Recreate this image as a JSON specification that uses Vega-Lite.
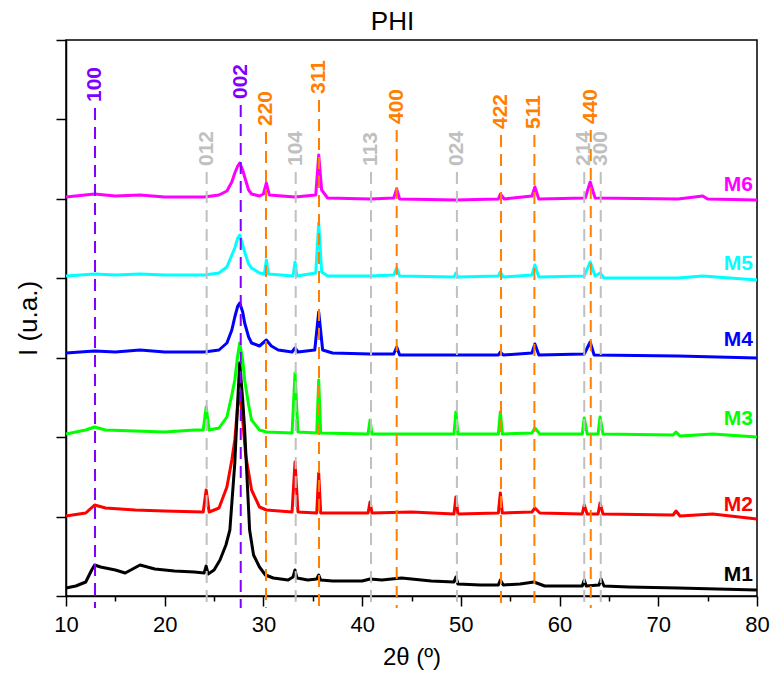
{
  "$schema": "https://vega.github.io/schema/vega-lite/v6.json",
  "width": 691,
  "height": 556,
  "autosize": {"type": "none"},
  "padding": {"left": 66, "top": 40, "right": 16, "bottom": 83},
  "config": {
    "font": "Liberation Sans",
    "view": {"stroke": "black", "strokeWidth": 1.5},
    "axis": {"domainColor": "black", "domainWidth": 1.5, "tickColor": "black", "tickWidth": 1.5, "labelColor": "black", "titleColor": "black", "grid": false, "titleFontWeight": "normal", "labelFont": "Liberation Sans", "titleFont": "Liberation Sans"}
  },
  "title": {"text": "PHI", "fontSize": 26, "fontWeight": "normal", "font": "Liberation Sans", "color": "black", "dx": -19, "offset": 4},
  "datasets": {
    "xrd": [
      {"s":"M6","x":10,"h":399},{"s":"M6","x":12.9,"h":402},{"s":"M6","x":15,"h":400},{"s":"M6","x":17.5,"h":401},{"s":"M6","x":20,"h":399},{"s":"M6","x":24,"h":399},{"s":"M6","x":25.5,"h":401},{"s":"M6","x":26.3,"h":405},{"s":"M6","x":26.8,"h":414},{"s":"M6","x":27.1,"h":423},{"s":"M6","x":27.4,"h":430},{"s":"M6","x":27.6,"h":433},{"s":"M6","x":27.9,"h":426},{"s":"M6","x":28.1,"h":419},{"s":"M6","x":28.5,"h":406},{"s":"M6","x":28.8,"h":402},{"s":"M6","x":29.6,"h":400},{"s":"M6","x":30.0,"h":402},{"s":"M6","x":30.3,"h":413},{"s":"M6","x":30.6,"h":401},{"s":"M6","x":33.2,"h":399},{"s":"M6","x":35.3,"h":401},{"s":"M6","x":35.6,"h":441},{"s":"M6","x":35.9,"h":406},{"s":"M6","x":36.5,"h":398},{"s":"M6","x":40.8,"h":397},{"s":"M6","x":43.2,"h":398},{"s":"M6","x":43.5,"h":407},{"s":"M6","x":43.8,"h":397},{"s":"M6","x":49.5,"h":396},{"s":"M6","x":53.8,"h":397},{"s":"M6","x":54.0,"h":402},{"s":"M6","x":54.4,"h":397},{"s":"M6","x":57.2,"h":400},{"s":"M6","x":57.5,"h":409},{"s":"M6","x":57.9,"h":397},{"s":"M6","x":62.6,"h":398},{"s":"M6","x":63.1,"h":414},{"s":"M6","x":63.6,"h":398},{"s":"M6","x":72,"h":397},{"s":"M6","x":74.5,"h":400},{"s":"M6","x":75,"h":397},{"s":"M6","x":80,"h":396},
      {"s":"M5","x":10,"h":320},{"s":"M5","x":12.9,"h":322},{"s":"M5","x":15,"h":321},{"s":"M5","x":17.5,"h":322},{"s":"M5","x":20,"h":321},{"s":"M5","x":24,"h":321},{"s":"M5","x":25.5,"h":323},{"s":"M5","x":26.3,"h":329},{"s":"M5","x":26.8,"h":341},{"s":"M5","x":27.1,"h":348},{"s":"M5","x":27.4,"h":358},{"s":"M5","x":27.6,"h":361},{"s":"M5","x":27.9,"h":351},{"s":"M5","x":28.1,"h":344},{"s":"M5","x":28.5,"h":332},{"s":"M5","x":28.8,"h":328},{"s":"M5","x":29.6,"h":323},{"s":"M5","x":30.1,"h":322},{"s":"M5","x":30.3,"h":336},{"s":"M5","x":30.5,"h":322},{"s":"M5","x":33.0,"h":320},{"s":"M5","x":33.2,"h":334},{"s":"M5","x":33.4,"h":320},{"s":"M5","x":35.3,"h":323},{"s":"M5","x":35.6,"h":373},{"s":"M5","x":35.9,"h":324},{"s":"M5","x":36.5,"h":320},{"s":"M5","x":40.8,"h":320},{"s":"M5","x":43.2,"h":321},{"s":"M5","x":43.5,"h":328},{"s":"M5","x":43.8,"h":320},{"s":"M5","x":49.3,"h":319},{"s":"M5","x":49.5,"h":323},{"s":"M5","x":49.7,"h":319},{"s":"M5","x":53.8,"h":320},{"s":"M5","x":54.0,"h":324},{"s":"M5","x":54.3,"h":319},{"s":"M5","x":57.2,"h":321},{"s":"M5","x":57.5,"h":331},{"s":"M5","x":57.9,"h":319},{"s":"M5","x":62.5,"h":320},{"s":"M5","x":63.1,"h":334},{"s":"M5","x":63.6,"h":320},{"s":"M5","x":64.1,"h":323},{"s":"M5","x":64.5,"h":318},{"s":"M5","x":72,"h":318},{"s":"M5","x":74.5,"h":320},{"s":"M5","x":80,"h":316},
      {"s":"M4","x":10,"h":243},{"s":"M4","x":12.9,"h":245},{"s":"M4","x":15,"h":244},{"s":"M4","x":17.5,"h":246},{"s":"M4","x":20,"h":244},{"s":"M4","x":24,"h":244},{"s":"M4","x":25.5,"h":246},{"s":"M4","x":26.3,"h":253},{"s":"M4","x":26.8,"h":266},{"s":"M4","x":27.1,"h":279},{"s":"M4","x":27.4,"h":290},{"s":"M4","x":27.6,"h":293},{"s":"M4","x":27.9,"h":284},{"s":"M4","x":28.1,"h":273},{"s":"M4","x":28.5,"h":259},{"s":"M4","x":28.8,"h":253},{"s":"M4","x":29.6,"h":250},{"s":"M4","x":30.3,"h":256},{"s":"M4","x":30.8,"h":250},{"s":"M4","x":31.5,"h":246},{"s":"M4","x":32.9,"h":244},{"s":"M4","x":33.2,"h":248},{"s":"M4","x":33.5,"h":244},{"s":"M4","x":35.2,"h":246},{"s":"M4","x":35.6,"h":284},{"s":"M4","x":36.0,"h":246},{"s":"M4","x":37,"h":243},{"s":"M4","x":40.8,"h":242},{"s":"M4","x":43.2,"h":242},{"s":"M4","x":43.5,"h":249},{"s":"M4","x":43.8,"h":241},{"s":"M4","x":49.5,"h":241},{"s":"M4","x":53.8,"h":241},{"s":"M4","x":54.0,"h":244},{"s":"M4","x":54.3,"h":241},{"s":"M4","x":57.2,"h":243},{"s":"M4","x":57.5,"h":252},{"s":"M4","x":57.9,"h":241},{"s":"M4","x":62.5,"h":242},{"s":"M4","x":63.1,"h":254},{"s":"M4","x":63.5,"h":241},{"s":"M4","x":72,"h":240},{"s":"M4","x":80,"h":238},
      {"s":"M3","x":10,"h":162},{"s":"M3","x":12,"h":166},{"s":"M3","x":12.9,"h":169},{"s":"M3","x":14,"h":166},{"s":"M3","x":17,"h":165},{"s":"M3","x":20,"h":164},{"s":"M3","x":23,"h":166},{"s":"M3","x":23.9,"h":166},{"s":"M3","x":24.2,"h":189},{"s":"M3","x":24.5,"h":166},{"s":"M3","x":25.5,"h":168},{"s":"M3","x":26.3,"h":179},{"s":"M3","x":26.8,"h":201},{"s":"M3","x":27.1,"h":216},{"s":"M3","x":27.4,"h":241},{"s":"M3","x":27.6,"h":253},{"s":"M3","x":27.9,"h":236},{"s":"M3","x":28.1,"h":216},{"s":"M3","x":28.5,"h":191},{"s":"M3","x":28.8,"h":176},{"s":"M3","x":29.6,"h":166},{"s":"M3","x":30.3,"h":164},{"s":"M3","x":32.9,"h":163},{"s":"M3","x":33.2,"h":223},{"s":"M3","x":33.5,"h":164},{"s":"M3","x":35.4,"h":163},{"s":"M3","x":35.6,"h":216},{"s":"M3","x":35.8,"h":163},{"s":"M3","x":40.6,"h":162},{"s":"M3","x":40.8,"h":176},{"s":"M3","x":41.0,"h":162},{"s":"M3","x":45,"h":162},{"s":"M3","x":49.3,"h":162},{"s":"M3","x":49.5,"h":184},{"s":"M3","x":49.7,"h":162},{"s":"M3","x":53.8,"h":162},{"s":"M3","x":54.0,"h":184},{"s":"M3","x":54.2,"h":162},{"s":"M3","x":57.2,"h":163},{"s":"M3","x":57.5,"h":168},{"s":"M3","x":58,"h":162},{"s":"M3","x":62.3,"h":162},{"s":"M3","x":62.5,"h":178},{"s":"M3","x":62.8,"h":162},{"s":"M3","x":63.9,"h":162},{"s":"M3","x":64.1,"h":179},{"s":"M3","x":64.4,"h":162},{"s":"M3","x":71.5,"h":161},{"s":"M3","x":71.8,"h":164},{"s":"M3","x":72.2,"h":160},{"s":"M3","x":75.5,"h":162},{"s":"M3","x":80,"h":159},
      {"s":"M2","x":10,"h":80},{"s":"M2","x":12,"h":83},{"s":"M2","x":12.9,"h":91},{"s":"M2","x":14,"h":88},{"s":"M2","x":17,"h":86},{"s":"M2","x":20,"h":85},{"s":"M2","x":23.9,"h":84},{"s":"M2","x":24.2,"h":106},{"s":"M2","x":24.5,"h":84},{"s":"M2","x":25.5,"h":88},{"s":"M2","x":26.3,"h":109},{"s":"M2","x":26.8,"h":136},{"s":"M2","x":27.1,"h":156},{"s":"M2","x":27.4,"h":191},{"s":"M2","x":27.6,"h":203},{"s":"M2","x":27.9,"h":176},{"s":"M2","x":28.2,"h":141},{"s":"M2","x":28.8,"h":106},{"s":"M2","x":29.6,"h":89},{"s":"M2","x":30.3,"h":86},{"s":"M2","x":32.9,"h":84},{"s":"M2","x":33.2,"h":134},{"s":"M2","x":33.5,"h":84},{"s":"M2","x":35.4,"h":83},{"s":"M2","x":35.6,"h":123},{"s":"M2","x":35.8,"h":83},{"s":"M2","x":40.6,"h":83},{"s":"M2","x":40.8,"h":94},{"s":"M2","x":41.0,"h":83},{"s":"M2","x":45,"h":84},{"s":"M2","x":49.3,"h":82},{"s":"M2","x":49.5,"h":99},{"s":"M2","x":49.7,"h":82},{"s":"M2","x":53.8,"h":83},{"s":"M2","x":54.0,"h":103},{"s":"M2","x":54.2,"h":83},{"s":"M2","x":57.2,"h":84},{"s":"M2","x":57.5,"h":88},{"s":"M2","x":58,"h":83},{"s":"M2","x":62.3,"h":82},{"s":"M2","x":62.5,"h":91},{"s":"M2","x":62.8,"h":82},{"s":"M2","x":63.9,"h":82},{"s":"M2","x":64.1,"h":93},{"s":"M2","x":64.4,"h":82},{"s":"M2","x":71.5,"h":81},{"s":"M2","x":71.8,"h":85},{"s":"M2","x":72.2,"h":80},{"s":"M2","x":75.5,"h":82},{"s":"M2","x":80,"h":77},
      {"s":"M1","x":10,"h":8},{"s":"M1","x":11,"h":10},{"s":"M1","x":12,"h":14},{"s":"M1","x":12.6,"h":26},{"s":"M1","x":12.9,"h":31},{"s":"M1","x":13.5,"h":29},{"s":"M1","x":15,"h":26},{"s":"M1","x":16,"h":23},{"s":"M1","x":17.5,"h":31},{"s":"M1","x":19,"h":27},{"s":"M1","x":21,"h":25},{"s":"M1","x":23,"h":24},{"s":"M1","x":24.0,"h":23},{"s":"M1","x":24.2,"h":30},{"s":"M1","x":24.4,"h":22},{"s":"M1","x":25.0,"h":26},{"s":"M1","x":25.6,"h":36},{"s":"M1","x":26.2,"h":51},{"s":"M1","x":26.6,"h":66},{"s":"M1","x":27.1,"h":133},{"s":"M1","x":27.4,"h":196},{"s":"M1","x":27.6,"h":233},{"s":"M1","x":27.9,"h":196},{"s":"M1","x":28.1,"h":166},{"s":"M1","x":28.4,"h":106},{"s":"M1","x":28.6,"h":66},{"s":"M1","x":29.0,"h":41},{"s":"M1","x":29.6,"h":29},{"s":"M1","x":30.2,"h":21},{"s":"M1","x":31.0,"h":18},{"s":"M1","x":32.5,"h":16},{"s":"M1","x":33.0,"h":19},{"s":"M1","x":33.2,"h":26},{"s":"M1","x":33.4,"h":18},{"s":"M1","x":34.5,"h":16},{"s":"M1","x":35.4,"h":17},{"s":"M1","x":35.6,"h":21},{"s":"M1","x":35.8,"h":16},{"s":"M1","x":37,"h":15},{"s":"M1","x":40,"h":15},{"s":"M1","x":40.8,"h":17},{"s":"M1","x":42,"h":16},{"s":"M1","x":44,"h":18},{"s":"M1","x":45,"h":17},{"s":"M1","x":47,"h":15},{"s":"M1","x":49.3,"h":14},{"s":"M1","x":49.5,"h":19},{"s":"M1","x":49.7,"h":12},{"s":"M1","x":52,"h":11},{"s":"M1","x":53.8,"h":11},{"s":"M1","x":54.0,"h":16},{"s":"M1","x":54.3,"h":11},{"s":"M1","x":56,"h":12},{"s":"M1","x":57.4,"h":14},{"s":"M1","x":58.5,"h":10},{"s":"M1","x":62.3,"h":10},{"s":"M1","x":62.5,"h":16},{"s":"M1","x":62.7,"h":10},{"s":"M1","x":64.0,"h":11},{"s":"M1","x":64.2,"h":17},{"s":"M1","x":64.5,"h":10},{"s":"M1","x":67,"h":9},{"s":"M1","x":72,"h":8},{"s":"M1","x":76,"h":7},{"s":"M1","x":80,"h":6}
    ],
    "refs": [
      {"hkl":"100","x":12.94,"top":488,"phase":"purple"},
      {"hkl":"002","x":27.7,"top":491,"phase":"purple"},
      {"hkl":"220","x":30.26,"top":464,"phase":"orange"},
      {"hkl":"311","x":35.63,"top":496,"phase":"orange"},
      {"hkl":"400","x":43.5,"top":466,"phase":"orange"},
      {"hkl":"422","x":54.07,"top":461,"phase":"orange"},
      {"hkl":"511","x":57.45,"top":461,"phase":"orange"},
      {"hkl":"440","x":63.16,"top":466,"phase":"orange"},
      {"hkl":"012","x":24.25,"top":424,"phase":"gray"},
      {"hkl":"104","x":33.27,"top":424,"phase":"gray"},
      {"hkl":"113","x":40.9,"top":424,"phase":"gray"},
      {"hkl":"024","x":49.6,"top":424,"phase":"gray"},
      {"hkl":"214","x":62.5,"top":424,"phase":"gray"},
      {"hkl":"300","x":64.17,"top":424,"phase":"gray"}
    ],
    "names": [
      {"s":"M6","x":79.6,"h":411},
      {"s":"M5","x":79.6,"h":332},
      {"s":"M4","x":79.6,"h":256},
      {"s":"M3","x":79.6,"h":177},
      {"s":"M2","x":79.6,"h":91},
      {"s":"M1","x":79.6,"h":21}
    ]
  },
  "resolve": {"scale": {"color": "independent"}},
  "layer": [
    {
      "data": {"name": "xrd"},
      "mark": {"type": "line", "strokeWidth": 3, "strokeJoin": "round"},
      "encoding": {
        "x": {"field": "x", "type": "quantitative", "scale": {"domain": [10, 80], "nice": false, "zero": false},
          "axis": {"values": [10,15,20,25,30,35,40,45,50,55,60,65,70,75,80], "tickSize": {"condition": {"test": "datum.value % 10 !== 0", "value": 5}, "value": 10}, "labelExpr": "datum.value % 10 === 0 ? datum.label : ''", "labelFontSize": 22, "labelPadding": 8, "title": "2θ (º)", "titleFontSize": 24, "titlePadding": 10, "labelFlush": false, "labelOverlap": false}},
        "y": {"field": "h", "type": "quantitative", "scale": {"domain": [0, 556], "nice": false, "zero": false},
          "axis": {"values": [0,39.714,79.429,119.143,158.857,198.571,238.286,278,317.714,357.429,397.143,436.857,476.571,516.286,556], "tickSize": {"condition": {"test": "round(datum.value/39.714) % 2 === 1", "value": 5}, "value": 10}, "labels": false, "title": "I (u.a.)", "titleFontSize": 26, "titlePadding": 14}},
        "color": {"field": "s", "type": "nominal", "legend": null, "sort": null,
          "scale": {"domain": ["M1","M2","M3","M4","M5","M6"], "range": ["#000000","#ff0000","#00ff00","#0000ff","#00ffff","#ff00ff"]}},
        "order": {"field": "x", "type": "quantitative"}
      }
    },
    {
      "data": {"name": "refs"},
      "mark": {"type": "rule", "strokeWidth": 2, "strokeDash": [12, 7]},
      "encoding": {
        "x": {"field": "x", "type": "quantitative"},
        "y": {"field": "top", "type": "quantitative"},
        "y2": {"datum": -12},
        "color": {"field": "phase", "type": "nominal", "legend": null,
          "scale": {"domain": ["purple","orange","gray"], "range": ["#8000ff","#ff8000","#c0c0c0"]}}
      }
    },
    {
      "data": {"name": "refs"},
      "mark": {"type": "text", "angle": -90, "align": "left", "baseline": "middle", "dx": 6, "fontSize": 21, "fontWeight": "bold"},
      "encoding": {
        "x": {"field": "x", "type": "quantitative"},
        "y": {"field": "top", "type": "quantitative"},
        "text": {"field": "hkl"},
        "color": {"field": "phase", "type": "nominal", "legend": null,
          "scale": {"domain": ["purple","orange","gray"], "range": ["#8000ff","#ff8000","#c0c0c0"]}}
      }
    },
    {
      "data": {"name": "names"},
      "mark": {"type": "text", "align": "right", "baseline": "middle", "fontSize": 21, "fontWeight": "bold"},
      "encoding": {
        "x": {"field": "x", "type": "quantitative"},
        "y": {"field": "h", "type": "quantitative"},
        "text": {"field": "s"},
        "color": {"field": "s", "type": "nominal", "legend": null,
          "scale": {"domain": ["M1","M2","M3","M4","M5","M6"], "range": ["#000000","#ff0000","#00ff00","#0000ff","#00ffff","#ff00ff"]}}
      }
    }
  ]
}
